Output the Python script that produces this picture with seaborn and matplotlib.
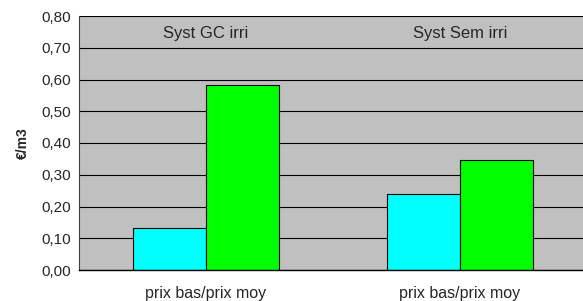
import pandas as pd
import matplotlib.pyplot as plt
import seaborn as sns

# chart values
systems = ["Syst GC irri", "Syst Sem irri"]
prices = ["prix bas", "prix moy"]
values_bas = [0.133, 0.238]
values_moy = [0.582, 0.346]
tick_label = "prix bas/prix moy"
yticks = [0.0, 0.1, 0.2, 0.3, 0.4, 0.5, 0.6, 0.7, 0.8]

df = pd.DataFrame({
    "system": systems * 2,
    "price": [prices[0]] * 2 + [prices[1]] * 2,
    "value": values_bas + values_moy,
})

sns.set_style("white")
plt.rcParams["font.family"] = ["Liberation Sans", "DejaVu Sans"]

fig = plt.figure(figsize=(5.83, 3.01), dpi=100)
ax = fig.add_axes([79 / 583, 31 / 301, 508 / 583, 254 / 301])
ax.set_facecolor("#C0C0C0")

sns.barplot(data=df, x="system", y="value", hue="price", order=systems,
            hue_order=prices, palette=["#00FFFF", "#00FF00"], width=0.575,
            edgecolor="black", linewidth=0.8, saturation=1, legend=False, ax=ax)

ax.set_xlim(-0.5, 1.5)
ax.set_ylim(0, 0.8)
ax.set_yticks(yticks)
ax.set_yticklabels([f"{v:.2f}".replace(".", ",") for v in yticks], fontsize=11)
ax.yaxis.grid(True, color="black", linewidth=0.8)
ax.set_axisbelow(True)

# category labels without ticks, one tick between the groups
ax.set_xticks([0.5])
ax.set_xticklabels([""])
ax.tick_params(axis="x", length=4, width=0.8, color="black", direction="out")
ax.tick_params(axis="y", length=4, width=0.8, color="#404040", direction="out", pad=2)
for i in range(len(systems)):
    ax.text(i, -0.074, tick_label, ha="center", va="center", fontsize=11.5)
    ax.text(i, 0.745, systems[i], ha="center", va="center", fontsize=12)

ax.set_xlabel("")
ax.set_ylabel("€/m3", fontsize=10, fontweight="bold")
ax.yaxis.set_label_coords(-0.097, 0.5)

for s in ["top", "right"]:
    ax.spines[s].set_visible(False)
ax.spines["left"].set_color("#404040")
ax.spines["left"].set_linewidth(0.8)
ax.spines["bottom"].set_color("black")
ax.spines["bottom"].set_linewidth(1.0)

fig.savefig("out.png", dpi=100)
